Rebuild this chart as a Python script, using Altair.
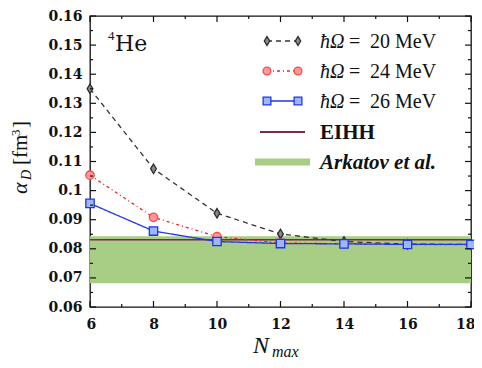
import altair as alt
import pandas as pd

# ---- data ----
nmax = [6, 8, 10, 12, 14, 16, 18]
alpha_20 = [0.1350, 0.1075, 0.0922, 0.0851, 0.0825, 0.0816, 0.0815]
alpha_24 = [0.1053, 0.0908, 0.0842, 0.0820, 0.0817, 0.0815, 0.0814]
alpha_26 = [0.0956, 0.0861, 0.0825, 0.0818, 0.0817, 0.0815, 0.0815]
eihh_value = 0.0831
arkatov_low = 0.0682
arkatov_high = 0.0843

x_major = [6, 8, 10, 12, 14, 16, 18]
x_minor = [7, 9, 11, 13, 15, 17]
y_major = [0.06, 0.07, 0.08, 0.09, 0.10, 0.11, 0.12, 0.13, 0.14, 0.15, 0.16]
y_minor = [0.065, 0.075, 0.085, 0.095, 0.105, 0.115, 0.125, 0.135, 0.145, 0.155]

W, H = 381, 291
TOP = 8
SERIF = "Liberation Serif"
DIAMOND = "M0,-1L0.6,0L0,1L-0.6,0Z"
xs = alt.Scale(domain=[6, 18], nice=False, zero=False)
ys = alt.Scale(domain=[0.06, 0.16], nice=False, zero=False)

XAX = alt.Axis(values=x_major, title=None, ticks=False, tickSize=0, domain=False, grid=False,
               labelFlush=True, labelFlushOffset=4, labelOverlap=False,
               labelFont="DejaVu Serif", labelFontWeight="bold", labelFontSize=14,
               labelColor="#111", labelPadding=10)
YAX = alt.Axis(values=y_major, title=None, ticks=False, tickSize=0, domain=False, grid=False,
               labelFlush=False, labelOverlap=False,
               labelExpr="format(datum.value, '.2~f')",
               labelFont="DejaVu Serif", labelFontWeight="bold", labelFontSize=14,
               labelColor="#111", labelPadding=8)

def X(f):
    return alt.X(f, scale=xs, axis=XAX)

def Y(f):
    return alt.Y(f, scale=ys, axis=YAX)

band_df = pd.DataFrame({"x": [nmax[0]], "x2": [nmax[-1]], "lo": [arkatov_low], "hi": [arkatov_high]})
eihh_df = pd.DataFrame({"x": [nmax[0]], "x2": [nmax[-1]], "y": [eihh_value]})

band = alt.Chart(band_df).mark_rect(color="#a8cd84").encode(
    x=X("x:Q"), x2="x2:Q", y=Y("lo:Q"), y2="hi:Q")

eihh = alt.Chart(eihh_df).mark_rule(color="#7b2a4c", strokeWidth=1.5).encode(
    x=X("x:Q"), x2="x2:Q", y=Y("y:Q"))

def series(vals, color, dash, shape, fill, stroke, size):
    df = pd.DataFrame({"n": nmax, "a": vals})
    base = alt.Chart(df).encode(x=X("n:Q"), y=Y("a:Q"))
    line = base.mark_line(color=color, strokeWidth=1.3, strokeDash=dash)
    pts = base.mark_point(shape=shape, filled=True, fill=fill, stroke=stroke,
                          strokeWidth=1.3, size=size, opacity=1)
    return line + pts

s20 = series(alpha_20, "#333333", [5, 4], DIAMOND, "#8a8a8a", "#2a2a2a", 90)
s24 = series(alpha_24, "#ee2222", [3, 3, 1, 3], "circle", "#ff9a9a", "#ff4444", 70)
s26 = series(alpha_26, "#2233ee", [1, 0], "square", "#9bb8f2", "#2233ee", 70)

# ---- inner ticks on all four sides ----
def xticks(vals, length):
    df = pd.DataFrame({"v": vals})
    b = alt.Chart(df).mark_rule(color="#111", strokeWidth=1.2)
    bottom = b.encode(x=X("v:Q"), y=alt.value(H), y2=alt.value(H - length))
    top = b.encode(x=X("v:Q"), y=alt.value(0), y2=alt.value(length))
    return bottom + top

def yticks(vals, length):
    df = pd.DataFrame({"v": vals})
    b = alt.Chart(df).mark_rule(color="#111", strokeWidth=1.2)
    left = b.encode(y=Y("v:Q"), x=alt.value(0), x2=alt.value(length))
    right = b.encode(y=Y("v:Q"), x=alt.value(W), x2=alt.value(W - length))
    return left + right

ticks = xticks(x_major, 6) + xticks(x_minor, 3) + yticks(y_major, 6) + yticks(y_minor, 3)

# ---- text helpers ----
one = pd.DataFrame({"k": [0]})
D = TOP - 6  # vertical shift relative to the earlier layout

def txt(s, x, y, size, italic=False, bold=False, angle=0, align="left", font=SERIF, color="#111"):
    kw = dict(font=font, fontSize=size, align=align, baseline="alphabetic", color=color)
    if italic:
        kw["fontStyle"] = "italic"
    if bold:
        kw["fontWeight"] = "bold"
    if angle:
        kw["angle"] = angle
    return alt.Chart(one).mark_text(**kw).encode(
        x=alt.value(x), y=alt.value(y - D), text=alt.value(s))

# legend
LX1, LX2, TX = 177, 208, 230
rows = [27 - D, 57 - D, 87 - D, 118 - D, 148 - D]

def leg_series(y, color, dash, shape, fill, stroke, size):
    r = alt.Chart(one).mark_rule(color=color, strokeWidth=1.3, strokeDash=dash).encode(
        x=alt.value(LX1), x2=alt.value(LX2), y=alt.value(y))
    p1 = alt.Chart(one).mark_point(shape=shape, filled=True, fill=fill, stroke=stroke,
                                   strokeWidth=1.3, size=size, opacity=1).encode(
        x=alt.value(LX1), y=alt.value(y))
    p2 = alt.Chart(one).mark_point(shape=shape, filled=True, fill=fill, stroke=stroke,
                                   strokeWidth=1.3, size=size, opacity=1).encode(
        x=alt.value(LX2), y=alt.value(y))
    return r + p1 + p2

legend = (
    leg_series(rows[0], "#333333", [5, 4], DIAMOND, "#8a8a8a", "#2a2a2a", 80)
    + leg_series(rows[1], "#ee2222", [3, 3, 1, 3], "circle", "#ff9a9a", "#ff4444", 60)
    + leg_series(rows[2], "#2233ee", [1, 0], "square", "#9bb8f2", "#2233ee", 60)
    + alt.Chart(one).mark_rule(color="#7b2a4c", strokeWidth=2).encode(
        x=alt.value(LX1 - 7), x2=alt.value(LX2 + 7), y=alt.value(rows[3]))
    + alt.Chart(one).mark_rule(color="#a8cd84", strokeWidth=7).encode(
        x=alt.value(LX1 - 12), x2=alt.value(LX2 + 12), y=alt.value(rows[4]))
)
for y, label in zip(rows[:3], ["20 MeV", "24 MeV", "26 MeV"]):
    yy = y + D + 7
    legend = legend + txt("ħΩ", TX, yy, 20, italic=True) + txt("=", 259, yy, 20) + txt(label, 280, yy, 20)
legend = (legend + txt("EIHH", TX, rows[3] + D + 7, 21, bold=True)
          + txt("Arkatov et al.", TX, rows[4] + D + 7, 21, italic=True, bold=True))

# labels
labels = (
    txt("4", 18, 26, 13)
    + txt("He", 25, 37, 22, font="DejaVu Serif")
    + txt("N", 163, 339, 24, italic=True)
    + txt("max", 182, 343, 16, italic=True)
    + txt("α", -63, 180, 22, italic=True, angle=270)
    + txt("D", -59, 166, 14, italic=True, angle=270)
    + txt("[fm", -63, 151, 21, angle=270)
    + txt("3", -70, 122, 13, angle=270)
    + txt("]", -63, 114, 21, angle=270)
)

chart = alt.layer(band, eihh, s20, s24, s26, ticks, legend, labels).properties(
    width=W, height=H,
    autosize=alt.AutoSizeParams(type="none"),
    padding={"left": 82, "top": TOP, "right": 3, "bottom": 53},
).configure_view(stroke="#111", strokeWidth=1.3)

chart.save("out.html", embed_options={"renderer": "svg", "actions": False})
